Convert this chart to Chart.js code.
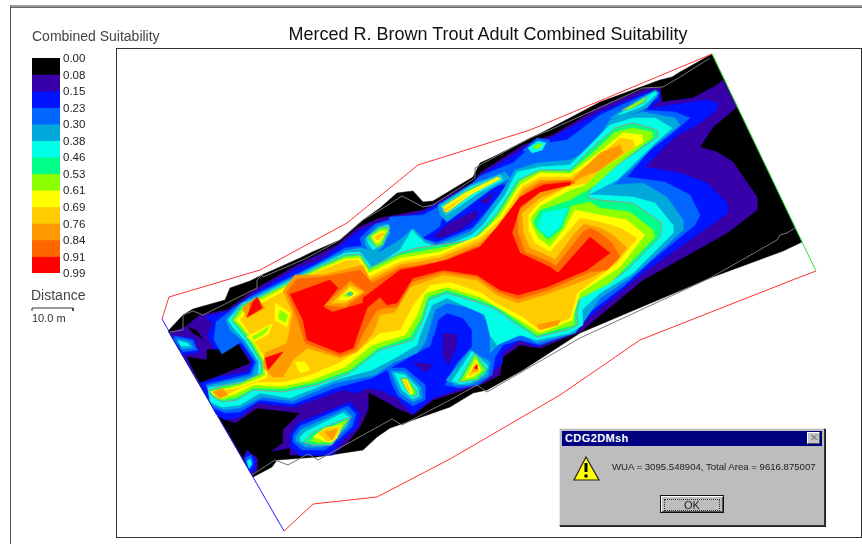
<!DOCTYPE html>
<html>
<head>
<meta charset="utf-8">
<title>Merced R. Brown Trout Adult Combined Suitability</title>
<script src="https://cdn.jsdelivr.net/npm/chart.js@4"></script>
<style>
  html, body { margin: 0; padding: 0; background: #fff; }
  #page { position: relative; width: 862px; height: 544px; overflow: hidden; font-family: "Liberation Sans", Arial, sans-serif; }
  #page > * { position: absolute; }
  #outerTop { left: 10px; top: 5px; right: 0; height: 3px; background: #999; border-bottom: 1px solid #666; box-sizing: border-box; }
  #outerLeft { left: 10px; top: 6px; bottom: 0; width: 1px; background: #555; }
  #plotBox { left: 116px; top: 48px; width: 744px; height: 488px; border: 1px solid #333; }
  #map { left: 0; top: 0; }
  #legend { left: 32px; top: 48px; }
  #title { left: 116px; width: 744px; top: 24px; text-align: center; font-size: 18px; color: #111; white-space: nowrap; }
  #legendTitle { left: 32px; top: 28px; font-size: 14px; color: #444; }
  #distance { left: 31px; top: 287px; font-size: 14px; color: #444; }
  #scaleText { left: 32px; top: 312px; font-size: 11px; color: #333; }
  #dialog { left: 559px; top: 428px; width: 264px; height: 96px; background: #bdbdbd; border: 1px solid; border-color: #e8e8e8 #333 #333 #e8e8e8; box-shadow: 1px 1px 0 #222; }
  #dialog > * { position: absolute; }
  #bar { left: 2px; top: 2px; right: 2px; height: 15px; background: #000080; color: #fff; font-size: 11px; font-weight: bold; line-height: 15px; padding-left: 3px; letter-spacing: .4px; box-sizing: border-box; }
  #close { right: 4px; top: 3px; width: 13px; height: 12px; background: #c6c6c6; border: 1px solid; border-color: #fff #555 #555 #fff; box-sizing: border-box; color: #777; font-size: 10px; line-height: 10px; text-align: center; }
  #msg { left: 52px; top: 32px; font-size: 9.6px; color: #222; white-space: nowrap; }
  #ok { left: 100px; top: 66px; width: 64px; height: 18px; border: 1px solid #111; box-shadow: inset 1px 1px 0 #fff, inset -1px -1px 0 #555; text-align: center; font-size: 11px; line-height: 17px; color: #222; box-sizing: border-box; }
  #ok span { display: block; margin: 3px; height: 10px; line-height: 10px; border: 1px dotted #333; }
  #warn { left: 12px; top: 26px; }
</style>
</head>
<body>
<div id="page">
  <div id="outerTop"></div>
  <div id="outerLeft"></div>
  <div id="plotBox"></div>
  <canvas id="map" width="862" height="544"></canvas>
  <canvas id="legend" width="70" height="235"></canvas>
  <div id="title">Merced R. Brown Trout Adult Combined Suitability</div>
  <div id="legendTitle">Combined Suitability</div>
  <div id="distance">Distance</div>
  <div id="scaleText">10.0 m</div>
  <div id="dialog">
    <div id="bar">CDG2DMsh</div>
    <div id="close">✕</div>
    <svg id="warn" width="30" height="28" viewBox="0 0 30 28"><path d="M14 2 L27 25 L2 25 Z" fill="#ffff00" stroke="#222" stroke-width="1.2"/><path d="M14 8 L14 17" stroke="#000" stroke-width="3"/><circle cx="14" cy="21" r="1.8"/></svg>
    <div id="msg">WUA = 3095.548904, Total Area = 9616.875007</div>
    <div id="ok"><span>OK</span></div>
  </div>
</div>
<script>
// legend
const tickLabels = ['0.00','0.08','0.15','0.23','0.30','0.38','0.46','0.53','0.61','0.69','0.76','0.84','0.91','0.99'];
const bandColors = ['#000000','#3800a8','#0014ff','#0066ff','#00a8dc','#00ffe6','#00ff88','#8cff00','#ffff00','#ffcc00','#ff9900','#ff6600','#ff0000'];
const BLACK = 0, INDIGO = 1, BLUE = 2, LIGHTBLUE = 3, TEAL = 4, CYAN = 5, GREEN = 6, LIME = 7, YELLOW = 8, GOLD = 9, ORANGE = 10, DARKORANGE = 11, RED = 12;

// contour outlines, x,y pairs in picture units
const blackDomain = [168,331,183,315,193,309,225,300,230,288,250,281,262,275,300,258,310,253,340,240,363,220,380,208,397,193,413,191,423,202,433,201,473,177,480,163,493,157,547,130,600,102,660,80,672,77,680,72,712,54,802,242,783,251,710,278,580,333,523,370,487,390,473,393,450,407,413,420,390,428,377,437,363,450,317,457,277,460,272,467,253,477];
const indigoMain = [170,333,185,327,200,315,227,310,257,288,297,265,337,245,357,228,380,218,423,210,473,182,480,173,523,145,553,135,600,107,647,88,660,87,662,102,693,98,717,85,723,80,737,107,713,127,700,147,717,152,733,162,757,197,757,210,727,233,643,280,580,332,540,348,520,345,503,357,500,375,480,385,433,400,413,415,397,408,387,402,370,393,357,390,343,392,300,413,257,408,235,423,220,417];
const indigoLower = [343,392,357,390,368,393,368,410,360,427,347,443,333,455,290,455,290,448,272,451,283,443,283,430,300,413];
const indigoSmall = [243,458,247,450,257,458,257,470,252,475,249,470];
const blackPatch = [187,357,207,360,207,350,223,348,237,342,250,363,220,375,200,383];
const blackSpike = [188,327,196,330,203,339,193,333];
const blueMain = [205,317,228,311,258,291,297,268,317,262,337,248,357,232,380,222,423,212,473,185,481,175,525,148,553,137,600,112,647,92,660,92,660,100,650,108,707,100,718,103,717,110,700,123,675,137,645,167,680,173,707,183,727,203,728,213,700,233,643,273,580,325,567,330,537,347,520,340,503,352,502,363,483,380,477,383,433,398,413,414,397,398,380,390,367,388,357,393,343,390,293,407,257,403,240,417,225,420,216,414,200,383,218,377,247,372,252,362,238,343,215,350,207,335,213,323];
const blueLower = [290,435,298,423,350,402,360,413,357,427,343,440,332,455,300,456,290,447];
const blueSmall = [245,458,247,452,255,458,255,470,250,472];
const blueLeft = [172,336,193,338,199,352,183,355];
const lightMain = [214,340,216,322,235,307,250,297,317,264,345,248,360,246,380,243,390,217,423,215,438,207,473,183,480,176,513,163,527,150,547,143,567,140,600,115,633,100,657,90,658,97,643,110,675,112,690,118,670,135,650,150,627,177,665,182,690,195,700,215,695,225,650,262,625,285,590,312,575,333,540,345,520,340,503,345,495,357,492,375,478,385,460,388,445,385,450,375,458,362,472,347,472,330,463,318,447,313,438,320,432,345,413,355,387,370,372,378,335,388,293,404,260,400,240,412,225,413,213,408,206,384,220,381,250,374,255,362,241,342,222,354];
const lightLower = [293,435,300,426,348,406,356,414,352,427,340,438,325,450,302,450,293,442];
const lightF4 = [360,238,375,224,390,220,392,232,385,250,372,260,362,248];
const lightF5 = [387,368,405,368,425,385,425,400,413,406,398,396,392,384];
const lightLeft = [175,336,193,340,197,350,183,352,173,340];
const lightSmall = [245,458,251,455,253,462,250,470,247,465];
const lightF10 = [523,150,537,138,550,140,545,153,530,158];
const pitBlue = [423,238,440,227,443,217,477,195,500,185,507,185,487,210,473,227,437,242];
const pitBlueF = [433,337,443,325,458,325,470,335,465,352,452,368,446,382,432,378,420,374,408,360,430,350];
const tealMain = [226,320,240,304,250,299,317,265,345,251,360,248,380,252,400,240,413,228,425,240,437,245,470,232,480,222,500,195,515,170,537,163,570,160,590,150,610,120,643,112,675,118,680,125,655,145,630,170,613,185,643,183,667,197,683,220,683,230,643,267,627,280,600,298,585,320,575,333,537,343,523,335,503,340,490,353,490,327,480,310,447,303,435,310,425,343,417,353,393,363,375,375,335,383,293,401,262,397,240,408,224,410,212,405,207,386,220,383,252,376,257,362,243,341,230,330];
const tealLower = [296,436,302,429,345,410,352,416,348,427,335,438,322,447,305,447,296,441];
const tealF4 = [365,238,378,226,389,224,390,233,382,248,373,255,365,245];
const tealF5 = [391,371,405,372,421,387,422,398,413,402,400,393,395,382];
const tealF6 = [446,380,470,350,490,362,488,376,470,385,455,385];
const tealF2 = [610,118,633,103,655,90,659,93,647,108,620,119];
const tealF3 = [438,205,470,185,505,172,510,178,490,190,447,222,440,215];
const tealLeft = [177,339,190,342,193,348,182,349];
const cyanMain = [228,320,243,303,250,301,317,267,345,253,360,252,372,268,400,250,412,230,425,243,440,248,472,235,483,225,505,195,517,172,540,167,570,165,590,145,610,125,633,118,655,118,672,128,655,143,617,180,588,195,600,195,633,197,655,203,673,225,673,233,633,273,600,293,582,310,583,325,570,333,537,340,520,335,497,345,490,335,485,315,447,298,432,305,420,335,417,345,395,358,372,370,335,380,290,398,260,393,240,405,222,407,210,402,208,388,225,385,258,378,259,362,245,340,235,330];
const cyanLower = [300,437,305,432,343,413,349,417,345,427,333,436,320,444,307,443,300,441];
const cyanF4 = [367,238,378,228,388,225,388,234,380,246,373,250,368,243];
const cyanF5 = [394,373,405,375,418,388,419,396,413,399,402,390,398,381];
const cyanF6 = [452,381,472,351,488,366,485,374,472,382,460,384];
const cyanF2 = [618,115,640,100,655,92,657,94,643,106,625,113];
const cyanF3 = [441,206,470,187,500,175,503,180,480,192,446,215];
const cyanF10 = [528,148,538,141,546,143,542,150,532,153];
const cyanLeft = [178,341,187,343,190,346,181,346];
const cyanSmall = [247,461,250,459,252,464,249,468];
const greenMain = [232,320,241,305,250,302,283,286,317,268,345,255,360,254,369,268,400,253,417,248,473,240,483,228,497,213,518,180,540,170,570,170,590,150,615,128,633,123,657,130,658,137,620,163,592,185,588,198,600,200,633,203,662,223,660,237,627,270,613,280,580,297,577,312,578,325,567,330,537,337,513,322,497,310,480,303,447,293,428,300,423,320,413,340,390,347,380,350,350,373,317,385,283,392,253,390,237,400,222,402,211,395,209,390,225,385,240,383,262,373,261,362,247,339,237,327];
const greenLower = [303,442,313,432,350,417,347,423,340,433,332,445,313,445];
const greenF4 = [367,237,380,227,390,227,383,245,377,248];
const greenF5 = [400,378,407,378,416,390,417,395,413,397,405,388];
const greenF6 = [458,382,475,353,487,370,478,380];
const greenF2 = [622,110,647,97,645,102,627,110];
const greenF3 = [443,206,466,191,499,176,500,179,470,195,446,214];
const poolCyan = [543,213,568,208,560,227,548,237,538,228];
const limeMain = [233,320,243,307,250,303,317,269,345,257,360,256,369,270,400,255,440,248,475,240,485,231,500,212,520,181,540,171,570,172,590,155,615,132,633,128,652,132,653,137,617,165,594,186,570,200,540,210,533,222,536,228,548,240,562,229,571,206,590,202,600,208,630,212,653,230,655,237,623,270,610,283,577,300,574,312,574,325,537,335,513,318,497,307,480,300,447,290,428,297,420,320,410,337,390,344,378,348,350,370,317,382,283,389,253,388,237,397,222,400,212,394,210,391,240,384,263,374,263,362,249,338,239,326];
const limeLower = [310,441,318,433,347,420,340,430,330,442,318,443];
const limeF4 = [370,237,381,229,388,229,381,244,376,246];
const limeF5 = [402,379,407,379,414,390,414,394,411,395,405,387];
const limeF6 = [461,381,475,356,484,370,476,378];
const limeF2 = [626,109,645,98,643,101,630,109];
const limeF10 = [533,147,540,143,542,146,536,149];
const limePitA = [280,310,288,315,285,323,278,318];
const limePitB = [252,337,270,326,265,333,254,340];
const yellowMain = [236,320,245,309,252,305,317,271,345,259,360,258,369,273,400,258,440,252,478,236,500,216,520,185,540,173,570,174,592,158,623,133,642,135,643,142,600,170,585,185,570,190,540,206,530,218,533,228,538,238,550,247,565,228,575,210,600,215,627,220,645,235,620,267,580,293,572,320,540,333,520,320,497,307,480,297,447,287,425,293,417,315,405,335,385,341,372,345,345,367,312,380,283,386,253,385,237,393,222,398,215,396,211,392,240,386,265,376,265,362,251,337,241,325];
const yellowLower = [313,437,325,428,342,425,337,438,330,443,322,440];
const yellowF4 = [372,236,381,231,386,231,380,242,376,243];
const yellowF5 = [403,380,407,380,412,391,412,394,410,394,406,387];
const yellowF6 = [465,379,476,359,481,371,474,376];
const yellowF3 = [443,207,465,193,498,177,500,179,470,195,447,212];
const yellowPitA = [275,303,290,313,287,327,275,320];
const yellowPitB = [247,337,273,323,268,335,253,342];
const yellowPitC = [295,362,305,362,310,370,300,373];
const goldMain = [240,320,248,311,255,307,290,288,317,272,345,261,358,260,369,277,400,262,440,255,480,238,502,218,522,187,540,177,570,177,595,160,620,138,633,140,635,147,600,170,587,183,567,187,540,202,528,215,528,230,535,243,550,252,570,230,580,218,600,222,620,228,637,238,617,263,577,293,570,318,540,330,520,315,495,302,480,292,450,282,430,285,413,305,400,330,380,333,365,345,340,362,310,375,283,382,255,382,240,388,225,396,218,399,213,392,240,388,267,378,268,362,252,338,244,325];
const goldLower = [318,433,328,428,340,427,335,438,328,442];
const goldF4 = [375,236,382,233,385,233,379,240,376,240];
const goldF5 = [404,381,406,381,410,391,410,393,407,388];
const goldF6 = [468,376,476,362,479,371,473,374];
const goldF3 = [443,210,467,195,463,198,445,212];
const orangeMain = [283,291,295,275,323,275,363,265,370,280,400,265,440,258,480,242,503,222,523,190,540,180,572,180,600,153,620,145,623,153,600,170,580,178,572,184,540,198,522,213,523,233,530,248,550,257,555,260,575,233,584,224,600,228,613,235,627,248,610,267,590,278,550,293,518,303,497,295,477,280,443,275,410,287,395,312,380,315,373,333,357,352,340,358,307,348,293,360,283,377,273,377,263,367,265,353,287,343,293,313];
const orangeSmall = [242,308,257,297,265,308,247,318];
const orangeBranch = [213,392,222,388,228,395,220,398];
const orangeLower = [325,432,337,430,332,440];
const orangeStrip = [537,325,550,322,560,320,558,325,540,330];
const orangeF6 = [472,372,477,364,478,370];
const darkMain = [287,292,297,279,323,277,360,270,372,283,400,268,440,262,480,245,505,224,525,193,540,183,570,180,575,183,540,192,517,212,518,233,525,252,550,262,556,266,583,232,590,228,600,233,612,243,620,257,607,270,590,272,548,290,518,299,498,292,477,277,443,272,412,282,397,307,385,308,377,310,365,330,355,350,340,356,305,343,298,320];
const darkSmall = [250,303,258,298,263,308,249,316];
const redMain = [290,294,297,292,330,280,338,288,323,307,333,312,363,303,363,298,383,283,400,270,417,267,447,260,480,247,497,227,520,197,543,185,570,182,570,185,540,192,520,207,512,233,520,253,550,267,558,273,590,237,610,253,587,270,547,287,518,295,500,290,477,275,443,270,413,278,397,303,387,305,380,297,367,308,353,348,340,353,307,340,303,320];
const redSmall = [257,297,262,308,247,317,253,302];
const redTiny = [265,358,283,352,268,370];
const redF6 = [474,368,477,365,477,369];
const pitOrange = [325,305,350,281,365,292,345,307];
const pitGold = [332,303,350,285,363,292,345,303];
const pitYellow = [338,300,350,288,358,293,348,300];
const pitLime = [343,296,350,291,354,293,349,297];
const pitTeal = [347,294,350,292,353,294,350,296];
const pitIndigoA = [433,237,450,223,477,210,477,217,460,230,443,237];
const pitIndigoB = [480,202,493,192,488,204];
const pitIndigoC = [443,333,458,335,455,350,448,365,443,355];
const pitIndigoD = [413,362,433,365,425,372];

// lines around the reach
const redBoundaryTop = [162,319,169,297,260,270,347,223,418,165,530,130,712,54];
const redBoundaryBottom = [284,531,313,504,377,497,450,459,560,395,640,340,795,279,816,271];
const blueEdge = [162,319,284,531];
const greenEdge = [712,54,816,271];
const meshTop = [170,332,183,330,183,315,193,311,203,315,257,288,257,280,262,275,263,277,307,258,340,240,363,220,380,210,402,196,423,207,433,205,475,178,475,168,480,165,530,138,550,130,643,88,663,87,680,77,710,58];
const meshBottom = [252,475,275,460,288,465,308,454,318,460,392,419,402,425,450,400,477,385,487,392,580,338,710,278,777,240,780,235,787,233,795,228];
const scaleBar = [32,311,32,308,73,308,73,311];

// paint order, later goes on top
const layers = [
  [BLACK, blackDomain], [INDIGO, indigoMain], [INDIGO, indigoLower], [INDIGO, indigoSmall],
  [BLACK, blackPatch], [BLACK, blackSpike],
  [BLUE, blueMain], [BLUE, blueLower], [BLUE, blueSmall], [BLUE, blueLeft],
  [LIGHTBLUE, lightMain], [LIGHTBLUE, lightLower], [LIGHTBLUE, lightF4], [LIGHTBLUE, lightF5], [LIGHTBLUE, lightLeft], [LIGHTBLUE, lightSmall], [LIGHTBLUE, lightF10],
  [BLUE, pitBlue], [BLUE, pitBlueF], [INDIGO, pitIndigoA], [INDIGO, pitIndigoB], [INDIGO, pitIndigoC], [INDIGO, pitIndigoD],
  [TEAL, tealMain], [TEAL, tealLower], [TEAL, tealF4], [TEAL, tealF5], [TEAL, tealF6], [TEAL, tealF2], [TEAL, tealF3], [TEAL, tealLeft],
  [CYAN, cyanMain], [CYAN, cyanLower], [CYAN, cyanF4], [CYAN, cyanF5], [CYAN, cyanF6], [CYAN, cyanF2], [CYAN, cyanF3], [CYAN, cyanF10], [CYAN, cyanLeft], [CYAN, cyanSmall],
  [GREEN, greenMain], [GREEN, greenLower], [GREEN, greenF4], [GREEN, greenF5], [GREEN, greenF6], [GREEN, greenF2], [GREEN, greenF3],
  [CYAN, poolCyan],
  [LIME, limeMain], [LIME, limeLower], [LIME, limeF4], [LIME, limeF5], [LIME, limeF6], [LIME, limeF2], [LIME, limeF10],
  [YELLOW, yellowMain], [YELLOW, yellowLower], [YELLOW, yellowF4], [YELLOW, yellowF5], [YELLOW, yellowF6], [YELLOW, yellowF3],
  [GOLD, goldMain], [GOLD, goldLower], [GOLD, goldF4], [GOLD, goldF5], [GOLD, goldF6], [GOLD, goldF3],
  [YELLOW, yellowPitA], [YELLOW, yellowPitB], [YELLOW, yellowPitC], [LIME, limePitA], [LIME, limePitB],
  [ORANGE, orangeMain], [ORANGE, orangeSmall], [ORANGE, orangeBranch], [ORANGE, orangeLower], [ORANGE, orangeStrip], [ORANGE, orangeF6],
  [DARKORANGE, darkMain], [DARKORANGE, darkSmall],
  [RED, redMain], [RED, redSmall], [RED, redTiny], [RED, redF6],
  [ORANGE, pitOrange], [GOLD, pitGold], [YELLOW, pitYellow], [LIME, pitLime], [GREEN, pitTeal]
];

const lines = [
  [redBoundaryTop, '#ff3030'], [redBoundaryBottom, '#ff3030'], [blueEdge, '#2020ff'], [greenEdge, '#30e030'],
  [meshTop, '#777777'], [meshBottom, '#777777'], [scaleBar, '#333333']
];

function toPoints(flat, close) {
  const pts = [];
  for (let i = 0; i < flat.length; i += 2) pts.push({ x: flat[i], y: flat[i + 1] });
  if (close) pts.push(pts[0]);
  return pts;
}

const datasets = [];
layers.forEach(([band, ring]) => {
  const color = bandColors[band];
  datasets.push({
    data: toPoints(ring, true),
    fill: 'shape',
    backgroundColor: color,
    // the green contour carries the thin grey line of the original
    borderColor: band === GREEN ? '#8f9f8f' : color,
    borderWidth: band === GREEN ? 1 : 0.5
  });
});
lines.forEach(([path, color]) => {
  datasets.push({ data: toPoints(path, false), fill: false, borderColor: color, borderWidth: 1 });
});
// first dataset has to be painted first
datasets.forEach((d, i) => { d.order = datasets.length - i; d.pointRadius = 0; d.tension = 0; });

new Chart(document.getElementById('map').getContext('2d'), {
  type: 'line',
  data: { datasets },
  options: {
    responsive: false,
    animation: false,
    events: [],
    layout: { padding: 0 },
    plugins: { legend: { display: false }, tooltip: { enabled: false } },
    scales: {
      x: { type: 'linear', min: 0, max: 862, display: false },
      y: { type: 'linear', min: 0, max: 544, reverse: true, display: false }
    }
  }
});

// colour key is a stacked bar with the level values as its axis
new Chart(document.getElementById('legend').getContext('2d'), {
  type: 'bar',
  data: {
    labels: ['key'],
    datasets: bandColors.map(c => ({ data: [1], backgroundColor: c, borderWidth: 0, barPercentage: 1, categoryPercentage: 1 }))
  },
  options: {
    responsive: false,
    animation: false,
    events: [],
    layout: { padding: { top: 10, bottom: 10 } },
    plugins: { legend: { display: false }, tooltip: { enabled: false } },
    scales: {
      x: { stacked: true, display: false },
      y: {
        stacked: true,
        position: 'right',
        reverse: true,
        min: 0,
        max: bandColors.length,
        afterFit: s => { s.width = 42; },
        grid: { display: false, drawTicks: false },
        border: { display: false },
        ticks: {
          stepSize: 1,
          autoSkip: false,
          padding: 3,
          labelOffset: 1,
          color: '#222',
          font: { family: '"Liberation Sans"', size: 11.5 },
          callback: v => tickLabels[v]
        }
      }
    }
  }
});
</script>
</body>
</html>
